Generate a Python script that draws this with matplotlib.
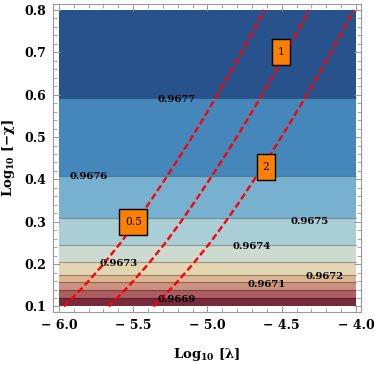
import matplotlib
matplotlib.use("Agg")
from matplotlib import pyplot as plt
from matplotlib.ticker import MultipleLocator, FuncFormatter
import numpy as np

# contour bands (value depends only on Log10[-chi])
band_edges = [0.100, 0.120, 0.138, 0.157, 0.174, 0.205, 0.246, 0.310, 0.407, 0.593, 0.800]
band_colors = ['#782a3d', '#ad5d60', '#cc927d', '#dcb592', '#e2d6b3',
               '#ccdacf', '#a9ced6', '#78b0cf', '#4587ba', '#27528b']

# contour labels: (text, x, y)
contour_labels = [('0.9677', -5.21, 0.588), ('0.9676', -5.80, 0.408),
                  ('0.9675', -4.31, 0.300), ('0.9674', -4.70, 0.242),
                  ('0.9673', -5.60, 0.201), ('0.9672', -4.21, 0.171),
                  ('0.9671', -4.60, 0.151), ('0.9669', -5.21, 0.116)]

# red dashed curves
curve_y = [0.10, 0.15, 0.20, 0.25, 0.30, 0.35, 0.40, 0.45, 0.50, 0.55, 0.60, 0.65, 0.70, 0.75, 0.80]
curve_05 = [-5.966, -5.826, -5.700, -5.585, -5.480, -5.381, -5.286, -5.194, -5.104,
            -5.017, -4.932, -4.850, -4.770, -4.692, -4.616]
curve_1 = [-5.665, -5.525, -5.399, -5.284, -5.179, -5.080, -4.985, -4.893, -4.803,
           -4.716, -4.631, -4.549, -4.469, -4.391, -4.315]
curve_2 = [-5.364, -5.224, -5.098, -4.983, -4.878, -4.779, -4.684, -4.592, -4.502,
           -4.415, -4.330, -4.248, -4.168, -4.090, -4.014]

# boxed curve labels: (text, x, y)
curve_tags = [('0.5', -5.50, 0.300), ('1', -4.505, 0.700), ('2', -4.606, 0.429)]

plt.rcParams['font.family'] = ['DejaVu Serif']
plt.rcParams['mathtext.fontset'] = 'custom'
plt.rcParams['mathtext.rm'] = 'DejaVu Serif:bold'
plt.rcParams['mathtext.it'] = 'DejaVu Serif:bold'
plt.rcParams['mathtext.bf'] = 'DejaVu Serif:bold'

fig = plt.figure(figsize=(3.75, 3.65), dpi=100)
ax = fig.add_axes([53/375, 1 - 312/365, 307.7/375, 308/365])

x_lo, x_hi = -6.0, -4.0
for i in range(len(band_colors)):
    ax.fill_between([x_lo, x_hi], band_edges[i], band_edges[i + 1],
                    color=band_colors[i], lw=0)
for yb in band_edges[1:-1]:
    ax.plot([x_lo, x_hi], [yb, yb], color=(0, 0, 0, 0.3), lw=0.8)

for xs in (curve_05, curve_1, curve_2):
    ax.plot(xs, curve_y, color='red', lw=1.7, linestyle=(0, (2.8, 1.4)))

for txt, x, y in contour_labels:
    ax.text(x, y, txt, fontsize=7.2, fontweight='bold', ha='center', va='center')

# orange tags: rectangle marker sized in pixels (height ~26 px)
box_h = 26.5
for txt, x, y in curve_tags:
    box_w = 12 + 5.5 * len(txt)
    hw, hh = box_w / 2, box_h / 2
    verts = [(-hw, -hh), (hw, -hh), (hw, hh), (-hw, hh), (-hw, -hh)]
    ax.plot([x], [y], marker=verts, ms=max(box_w, box_h) * 0.72,
            mfc='#ff8000', mec='black', mew=1, ls='none', zorder=4)
    ax.text(x, y, txt, fontsize=7.6, ha='center', va='center', zorder=5)

ax.set_xlim(-6.040, -3.968)
ax.set_ylim(0.087, 0.814)

ax.xaxis.set_major_locator(MultipleLocator(0.5))
ax.xaxis.set_minor_locator(MultipleLocator(0.1))
ax.yaxis.set_major_locator(MultipleLocator(0.1))
ax.yaxis.set_minor_locator(MultipleLocator(0.02))
ax.xaxis.set_major_formatter(FuncFormatter(lambda v, p: '\u2212 %.1f' % abs(v) if v < 0 else '%.1f' % v))
ax.yaxis.set_major_formatter(FuncFormatter(lambda v, p: '%.1f' % v))

ax.tick_params(which='both', direction='in', color='#999999', top=True, right=True)
ax.tick_params(which='major', length=5, width=0.7, pad=5)
ax.tick_params(which='minor', length=3, width=0.6)
for lab in ax.get_xticklabels() + ax.get_yticklabels():
    lab.set_fontweight('bold')
    lab.set_fontsize(9)
for sp in ax.spines.values():
    sp.set_color('#999999')
    sp.set_linewidth(0.8)

ax.set_xlabel(r'Log$_{10}$ [λ]', fontsize=9.5, fontweight='bold', labelpad=10)
ax.set_ylabel(r'Log$_{10}$ [$-$χ]', fontsize=9.5, fontweight='bold', labelpad=5)

fig.savefig('out.png', dpi=100)
